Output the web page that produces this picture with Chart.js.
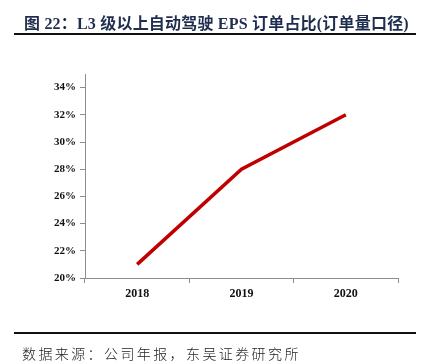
<!DOCTYPE html>
<html>
<head>
<meta charset="utf-8">
<script src="https://cdn.jsdelivr.net/npm/chart.js@4/dist/chart.umd.min.js"></script>
<style>
  body { margin: 0; background: #fff; }
  #wrap { position: relative; width: 430px; height: 364px; overflow: hidden; }
  #title { position: absolute; left: 24px; top: 10px; font: bold 16px "Liberation Serif", "Noto Sans CJK SC", serif; letter-spacing: 0.2px; color: #1f2d4f; white-space: nowrap; }
  #topline { position: absolute; left: 14px; top: 33px; width: 402px; height: 2px; background: #111; }
  #botline { position: absolute; left: 14px; top: 332px; width: 402px; height: 2px; background: #111; }
  #source { position: absolute; left: 22px; top: 343px; font: 300 14px "Noto Sans CJK SC", serif; letter-spacing: 2.4px; color: #222; white-space: nowrap; }
  #chartbox { position: absolute; left: 0; top: 0; width: 430px; height: 364px; }
</style>
</head>
<body>
<div id="wrap">
  <div id="chartbox"><canvas id="c"></canvas></div>
  <div id="title">图 22：L3 级以上自动驾驶 EPS 订单占比(订单量口径)</div>
  <div id="topline"></div>
  <div id="botline"></div>
  <div id="source">数据来源：公司年报，东吴证券研究所</div>
</div>
<script>
// chart data
const years = ['2018', '2019', '2020'];
const shareValues = [21, 28, 32];
const yTicks = [20, 22, 24, 26, 28, 30, 32, 34];

const axisColor = '#8c8c8c';

new Chart(document.getElementById('c'), {
  type: 'line',
  data: {
    labels: years,
    datasets: [{
      data: shareValues,
      borderColor: '#c00000',
      borderWidth: 3.5,
      pointRadius: 0,
      tension: 0,
      fill: false
    }]
  },
  options: {
    responsive: true,
    maintainAspectRatio: false,
    animation: false,
    layout: { padding: { left: 0, top: 74, right: 32, bottom: 56 } },
    plugins: { legend: { display: false }, tooltip: { enabled: false } },
    scales: {
      x: {
        offset: true,
        afterFit: (s) => { s.height = 30; },
        border: { color: axisColor, width: 1 },
        grid: { offset: true, drawOnChartArea: false, drawTicks: true, tickLength: 5, color: axisColor },
        ticks: { color: '#111', padding: 4, font: { family: 'Liberation Serif', size: 12, weight: 'bold' } }
      },
      y: {
        min: 20,
        max: 35,
        afterFit: (s) => { s.width = 85; },
        afterBuildTicks: (s) => { s.ticks = yTicks.map(v => ({ value: v })); },
        border: { color: axisColor, width: 1 },
        grid: { drawOnChartArea: false, drawTicks: true, tickLength: 5, color: axisColor },
        ticks: {
          color: '#111',
          padding: 4,
          font: { family: 'Liberation Serif', size: 11, weight: 'bold' },
          callback: (v) => v + '%'
        }
      }
    }
  }
});
</script>
</body>
</html>
